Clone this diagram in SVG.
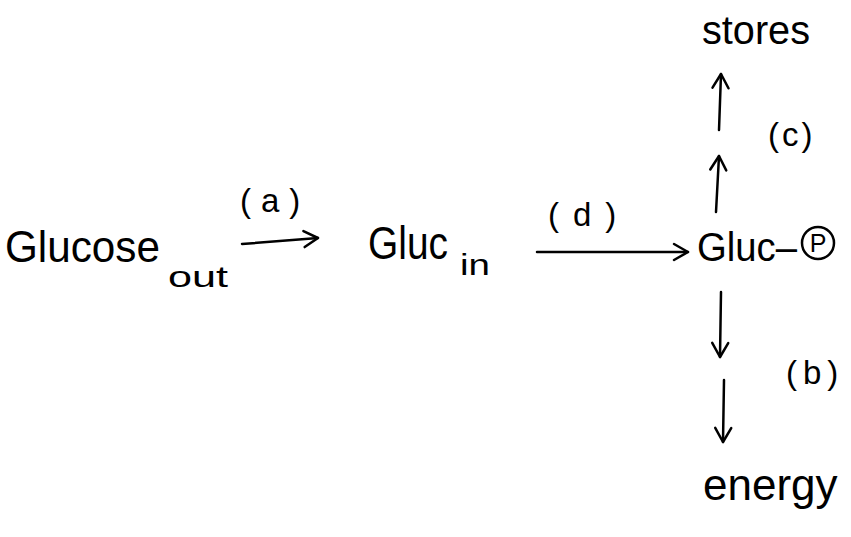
<svg xmlns="http://www.w3.org/2000/svg" width="851" height="537" viewBox="0 0 851 537">
<defs>
<style>
text{font-family:"Liberation Sans","DejaVu Sans",sans-serif;fill:#000}
.c{stroke:#000;stroke-width:2.5;fill:none;stroke-linecap:round;stroke-linejoin:round}
.l{font-size:33px}
</style>
<marker id="ah" viewBox="0 0 20 20" refX="18" refY="10" markerWidth="20" markerHeight="20" markerUnits="userSpaceOnUse" orient="auto">
<path d="M4,2 L18,10 L4,18" fill="none" stroke="#000" stroke-width="2.5" stroke-linecap="round" stroke-linejoin="round"/>
</marker>
</defs>
<rect width="851" height="537" fill="#fff"/>
<g id="glucose-out">
<text x="5" y="262" font-size="44" textLength="155" lengthAdjust="spacingAndGlyphs">Glucose</text>
<text x="168" y="287" font-size="30" textLength="60" lengthAdjust="spacingAndGlyphs">out</text>
</g>
<g id="gluc-in">
<text x="368" y="259" font-size="46" textLength="80" lengthAdjust="spacingAndGlyphs">Gluc</text>
<text x="460" y="275" font-size="30" textLength="30" lengthAdjust="spacingAndGlyphs">in</text>
</g>
<g id="gluc-p">
<text x="697" y="261" font-size="40" textLength="100" lengthAdjust="spacingAndGlyphs">Gluc–</text>
<circle cx="818" cy="243" r="16" class="c" stroke-width="2"/>
<text x="818" y="252" font-size="25" text-anchor="middle">P</text>
</g>
<g id="stores">
<text x="702" y="44" font-size="40" textLength="108" lengthAdjust="spacingAndGlyphs">stores</text>
</g>
<g id="energy">
<text x="703" y="500" font-size="44">energy</text>
</g>
<g id="connectors">
<line class="c" x1="242" y1="244" x2="318" y2="238" marker-end="url(#ah)"/>
<line class="c" x1="537" y1="252" x2="688" y2="252" marker-end="url(#ah)"/>
<line class="c" x1="719" y1="130" x2="721" y2="74" marker-end="url(#ah)"/>
<line class="c" x1="716" y1="212" x2="719" y2="156" marker-end="url(#ah)"/>
<line class="c" x1="721" y1="292" x2="720" y2="357" marker-end="url(#ah)"/>
<line class="c" x1="724" y1="380" x2="723" y2="442" marker-end="url(#ah)"/>
</g>
<g id="labels">
<text class="l" x="240" y="212" letter-spacing="10">(a)</text>
<text class="l" x="548" y="226" letter-spacing="14">(d)</text>
<text class="l" x="768" y="146" letter-spacing="3">(c)</text>
<text class="l" x="786" y="384" letter-spacing="6">(b)</text>
</g>
</svg>
